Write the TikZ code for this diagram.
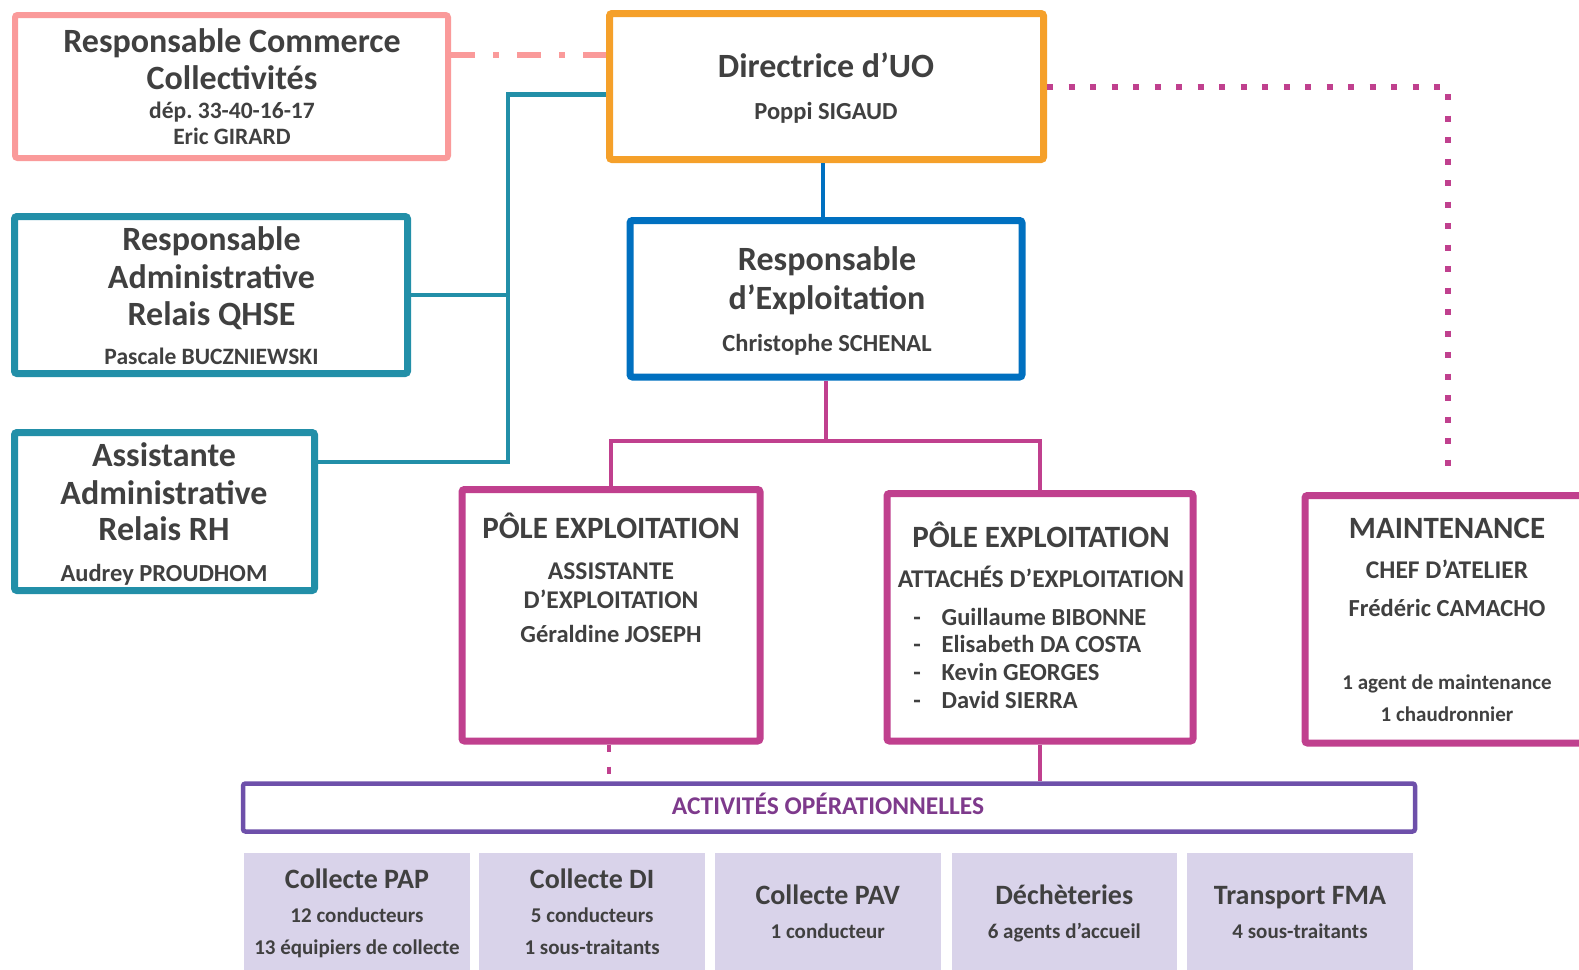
\documentclass[tikz,border=0pt]{standalone}
\usepackage{fontspec}
\setmainfont{Carlito}
\frenchspacing
\definecolor{txt}{HTML}{404040}
\definecolor{cpink}{HTML}{FA9A9A}
\definecolor{corange}{HTML}{F5A02A}
\definecolor{cteal}{HTML}{228FA8}
\definecolor{cblue}{HTML}{0070C0}
\definecolor{cmag}{HTML}{C0408E}
\definecolor{cpurple}{HTML}{6E50AA}
\definecolor{cacttxt}{HTML}{7E3A8C}
\definecolor{clav}{HTML}{D9D3EA}
\tikzset{
  box/.style={draw=#1, line width=7pt, rounded corners=2.5pt, fill=white, inner sep=0pt},
  tile/.style={fill=clav, inner sep=0pt, draw=none},
  lbl/.style={anchor=base, inner sep=0pt, text=txt},
  fa/.style={font=\bfseries\fontsize{34}{40}\selectfont},
  fb/.style={font=\bfseries\fontsize{31}{36}\selectfont},
  fc/.style={font=\bfseries\fontsize{28}{33}\selectfont},
  fd/.style={font=\bfseries\fontsize{25.5}{30}\selectfont},
  fe/.style={font=\bfseries\fontsize{24.5}{29}\selectfont},
  ff/.style={font=\bfseries\fontsize{23.5}{28}\selectfont},
  fg/.style={font=\bfseries\fontsize{21}{25}\selectfont},
}
\begin{document}
\begin{tikzpicture}[x=1pt,y=-1pt]
\useasboundingbox (0,0) rectangle (1579,969);
\coordinate (tx) at (508,0);
\coordinate (mj) at (826,441);
\coordinate (mt) at (1448,473);
% boxes
\node[box=cpink, line width=6pt, minimum width=433pt, minimum height=143pt] (com) at (231.5,86.5) {};
\node[box=corange, minimum width=434pt, minimum height=146pt] (dir) at (826.5,86.5) {};
\node[box=cteal, minimum width=393pt, minimum height=157pt] (qhse) at (211,295) {};
\node[box=cteal, minimum width=300pt, minimum height=158pt] (rh) at (164.5,511.5) {};
\node[box=cblue, minimum width=392pt, minimum height=156.5pt] (resp) at (826,298.75) {};
\node[box=cmag, minimum width=298pt, minimum height=251.5pt] (p1) at (611,615.25) {};
\node[box=cmag, minimum width=306pt, minimum height=247.5pt] (p2) at (1040,617.25) {};
\node[box=cmag, minimum width=284pt, minimum height=247.5pt] (mnt) at (1447,619.25) {};
\node[box=cpurple, line width=4.5pt, minimum width=1172pt, minimum height=48pt] (act) at (829,807.5) {};
% tiles
\node[tile, minimum width=226.6pt, minimum height=122pt] (b1) at (357,914) {};
\node[tile, minimum width=225.7pt, minimum height=122pt] (b2) at (592.15,914) {};
\node[tile, minimum width=225.5pt, minimum height=122pt] (b3) at (827.75,914) {};
\node[tile, minimum width=225.4pt, minimum height=122pt] (b4) at (1064.3,914) {};
\node[tile, minimum width=226pt, minimum height=122pt] (b5) at (1300,914) {};
% connectors
\draw[cpink, line width=6pt, dash pattern=on 24pt off 18pt on 6pt off 18pt]
  ([yshift=32pt]com.east) -- ([yshift=32pt]dir.west);
\draw[cteal, line width=4.5pt] ([yshift=-8pt]dir.west) -| ([yshift=49.5pt]rh.east -| tx) -- ([yshift=49.5pt]rh.east);
\draw[cteal, line width=4.5pt] (qhse.east) -- (qhse.east -| tx);
\draw[cblue, line width=4pt] ([xshift=-3.5pt]dir.south) -- ([xshift=-3.5pt]dir.south |- resp.north);
\draw[cmag, line width=4pt] (resp.south) -- (resp.south |- mj);
\draw[cmag, line width=4pt] (p1.north) |- (mj) -| (p2.north);
\draw[cmag, line width=6pt, dash pattern=on 6pt off 15.5pt] (dir.east) -| (mt);
\draw[cmag, line width=4pt, dash pattern=on 7pt off 15pt] ([xshift=-2pt]p1.south) -- ([xshift=-2pt]p1.south |- act.north);
\draw[cmag, line width=4pt] (p2.south) -- (p2.south |- act.north);
% texts: commerce
\node[lbl, fa] (t1) at (232,52) {Responsable Commerce};
\node[lbl, fa] (t2) at (232,89) {Collectivités};
\node[lbl, ff] (t3) at (232,118) {dép. 33-40-16-17};
\node[lbl, ff] (t4) at (232,144.5) {Eric GIRARD};
% qhse
\node[lbl, fa] (t5) at (211.5,250.6) {Responsable};
\node[lbl, fa] (t6) at (211.5,288) {Administrative};
\node[lbl, fa] (t7) at (211.5,325) {Relais QHSE};
\node[lbl, ff] (t8) at (211.5,364) {Pascale BUCZNIEWSKI};
% rh
\node[lbl, fa] (t9) at (164,466) {Assistante};
\node[lbl, fa] (t10) at (164,504) {Administrative};
\node[lbl, fa] (t11) at (164,540.6) {Relais RH};
\node[lbl, fe] (t12) at (164,581.4) {Audrey PROUDHOM};
% directrice
\node[lbl, fa] (t13) at (826,77.4) {Directrice d’UO};
\node[lbl, fe] (t14) at (826,119.5) {Poppi SIGAUD};
% resp
\node[lbl, fa] (t15) at (827,270.7) {Responsable};
\node[lbl, fa] (t16) at (827,309) {d’Exploitation};
\node[lbl, fe] (t17) at (827,351) {Christophe SCHENAL};
% pole 1
\node[lbl, fb] (t18) at (611,538.7) {PÔLE EXPLOITATION};
\node[lbl, fd] (t19) at (611,579) {ASSISTANTE};
\node[lbl, fd] (t20) at (611,608) {D’EXPLOITATION};
\node[lbl, fe] (t21) at (611,642.4) {Géraldine JOSEPH};
% pole 2
\node[lbl, fb] (t22) at (1041,547.7) {PÔLE EXPLOITATION};
\node[lbl, fd] (t23) at (1041,587) {ATTACHÉS D’EXPLOITATION};
\foreach \n/\yy/\nm in {a/625.3/Guillaume BIBONNE, b/652.5/Elisabeth DA COSTA, c/680.7/Kevin GEORGES, d/708/David SIERRA}{
  \node[lbl, fe] (d\n) at (917,\yy) {-};
  \node[lbl, fe, anchor=base west] (n\n) at (941.5,\yy) {\nm};
}
% maintenance
\node[lbl, fb] (t24) at (1447,538.7) {MAINTENANCE};
\node[lbl, fd] (t25) at (1447,578) {CHEF D’ATELIER};
\node[lbl, fe] (t26) at (1447,616) {Frédéric CAMACHO};
\node[lbl, fg] (t27) at (1447,689.4) {1 agent de maintenance};
\node[lbl, fg] (t28) at (1447,721.7) {1 chaudronnier};
% activites
\node[lbl, fd, text=cacttxt] (t29) at (828,814.6) {ACTIVITÉS OPÉRATIONNELLES};
% tiles text
\node[lbl, fc] (t30) at (357,888) {Collecte PAP};
\node[lbl, fg] (t31) at (357,922) {12 conducteurs};
\node[lbl, fg] (t32) at (357,954.3) {13 équipiers de collecte};
\node[lbl, fc] (t33) at (592.15,888) {Collecte DI};
\node[lbl, fg] (t34) at (592.15,922) {5 conducteurs};
\node[lbl, fg] (t35) at (592.15,954.3) {1 sous-traitants};
\node[lbl, fc] (t36) at (827.75,904) {Collecte PAV};
\node[lbl, fg] (t37) at (827.75,938) {1 conducteur};
\node[lbl, fc] (t38) at (1064.3,904) {Déchèteries};
\node[lbl, fg] (t39) at (1064.3,938) {6 agents d’accueil};
\node[lbl, fc] (t40) at (1300,904) {Transport FMA};
\node[lbl, fg] (t41) at (1300,938) {4 sous-traitants};
\end{tikzpicture}
\end{document}
